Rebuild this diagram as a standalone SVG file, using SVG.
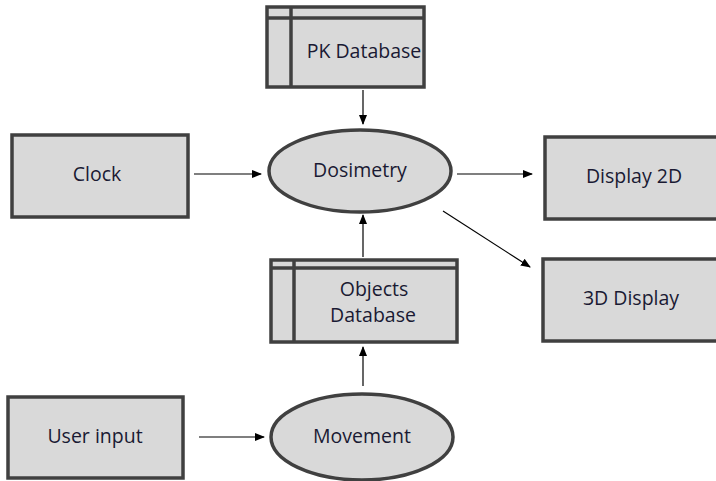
<svg xmlns="http://www.w3.org/2000/svg" width="716" height="481" viewBox="0 0 716 481">
<defs>
<marker id="ah" markerWidth="10" markerHeight="8" refX="9" refY="4" orient="auto" markerUnits="userSpaceOnUse">
<path d="M0,0 L10,4 L0,8 z" fill="#000"/>
</marker>
<style>
.box{fill:#d9d9d9;stroke:#404040;stroke-width:3.5}
.ln{stroke:#404040;stroke-width:3.5;fill:none}
.t{font-family:"Open Sans","Liberation Sans",sans-serif;font-size:19.5px;fill:#1a1a33;text-anchor:middle}
.c{stroke:#000;stroke-width:1.2;fill:none;marker-end:url(#ah)}
</style>
</defs>
<rect width="716" height="481" fill="#fff"/>
<g id="pk-database">
<rect class="box" x="267" y="7" width="157" height="80"/>
<line class="ln" x1="291" y1="7" x2="291" y2="87"/>
<line class="ln" x1="267" y1="18" x2="424" y2="18"/>
<text class="t" x="364" y="58">PK Database</text>
</g>
<g id="clock">
<rect class="box" x="12" y="135" width="176" height="82"/>
<text class="t" x="97" y="181">Clock</text>
</g>
<g id="dosimetry">
<ellipse class="box" cx="360" cy="171" rx="91" ry="41"/>
<text class="t" x="360" y="177">Dosimetry</text>
</g>
<g id="display-2d">
<rect class="box" x="545" y="137" width="175" height="82"/>
<text class="t" x="634" y="183">Display 2D</text>
</g>
<g id="display-3d">
<rect class="box" x="543" y="259" width="177" height="82"/>
<text class="t" x="631" y="305">3D Display</text>
</g>
<g id="objects-database">
<rect class="box" x="271" y="260" width="186" height="82"/>
<line class="ln" x1="294" y1="260" x2="294" y2="342"/>
<line class="ln" x1="271" y1="268" x2="457" y2="268"/>
<text class="t" x="374" y="296">Objects</text>
<text class="t" x="373" y="322">Database</text>
</g>
<g id="user-input">
<rect class="box" x="8" y="397" width="175" height="81"/>
<text class="t" x="95" y="443">User input</text>
</g>
<g id="movement">
<ellipse class="box" cx="362" cy="437" rx="91" ry="43"/>
<text class="t" x="362" y="443">Movement</text>
</g>
<g id="connectors">
<line class="c" x1="363" y1="90" x2="363" y2="124"/>
<line class="c" x1="194" y1="174" x2="261" y2="174"/>
<line class="c" x1="457" y1="174" x2="532" y2="174"/>
<line class="c" x1="443" y1="211" x2="530" y2="267"/>
<line class="c" x1="363" y1="257" x2="363" y2="215"/>
<line class="c" x1="363" y1="386" x2="363" y2="347"/>
<line class="c" x1="199" y1="437" x2="264" y2="437"/>
</g>
</svg>
